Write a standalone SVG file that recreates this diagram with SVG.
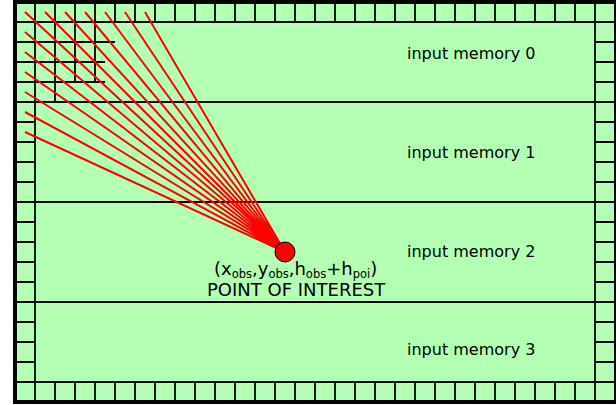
<svg xmlns="http://www.w3.org/2000/svg" width="616" height="405" viewBox="0 0 616 405">
<style>
.g{stroke:#000;stroke-width:1.8;fill:none}
.r{stroke:#f00;stroke-width:2;fill:none}
text{font-family:"DejaVu Sans",sans-serif;font-size:16px;fill:#000}
.b{font-size:18px}
.s{font-size:11.500px}
</style>
<rect width="616" height="405" fill="#fff"/>
<g id="board">
<rect x="15" y="2" width="601" height="400" fill="#b3ffb3" stroke="#000" stroke-width="4"/>
</g>
<g id="grid">
<path class="g" d="M35 4V400M595 4V400M17 22H614M17 382H614M17 102H614M17 202H614M17 302H614"/>
<path class="g" d="M55 4V22M75 4V22M95 4V22M115 4V22M135 4V22M155 4V22M175 4V22M195 4V22M215 4V22M235 4V22M255 4V22M275 4V22M295 4V22M315 4V22M335 4V22M355 4V22M375 4V22M395 4V22M415 4V22M435 4V22M455 4V22M475 4V22M495 4V22M515 4V22M535 4V22M555 4V22M575 4V22"/>
<path class="g" d="M55 382V400M75 382V400M95 382V400M115 382V400M135 382V400M155 382V400M175 382V400M195 382V400M215 382V400M235 382V400M255 382V400M275 382V400M295 382V400M315 382V400M335 382V400M355 382V400M375 382V400M395 382V400M415 382V400M435 382V400M455 382V400M475 382V400M495 382V400M515 382V400M535 382V400M555 382V400M575 382V400"/>
<path class="g" d="M17 122H35M17 142H35M17 162H35M17 182H35M17 222H35M17 242H35M17 262H35M17 282H35M17 322H35M17 342H35M17 362H35"/>
<path class="g" d="M595 42H614M595 62H614M595 82H614M595 122H614M595 142H614M595 162H614M595 182H614M595 222H614M595 242H614M595 262H614M595 282H614M595 322H614M595 342H614M595 362H614"/>
<path class="g" d="M17 42H115M17 62H105M17 82H105M55 22V102M75 22V82M95 22V82"/>
</g>
<g id="connectors">
<path class="r" d="M25 12L285 252M45 12L285 252M65 12L285 252M85 12L285 252M105 12L285 252M125 12L285 252M145 12L285 252M25 32L285 252M25 52L285 252M25 72L285 252M25 92L285 252M25 112L285 252M25 132L285 252"/>
</g>
<g id="poi">
<circle cx="285" cy="252" r="10" fill="#f00" stroke="#000" stroke-width="1"/>
<text class="b" x="214" y="275">(x<tspan class="s" dy="3">obs</tspan><tspan dy="-3">,y</tspan><tspan class="s" dy="3">obs</tspan><tspan dy="-3">,h</tspan><tspan class="s" dy="3">obs</tspan><tspan dy="-3">+h</tspan><tspan class="s" dy="3">poi</tspan><tspan dy="-3">)</tspan></text>
<text class="b" x="207" y="296">POINT OF INTEREST</text>
</g>
<g id="mem0"><text x="407" y="59">input memory 0</text></g>
<g id="mem1"><text x="407" y="158">input memory 1</text></g>
<g id="mem2"><text x="407" y="257">input memory 2</text></g>
<g id="mem3"><text x="407" y="355">input memory 3</text></g>
</svg>
